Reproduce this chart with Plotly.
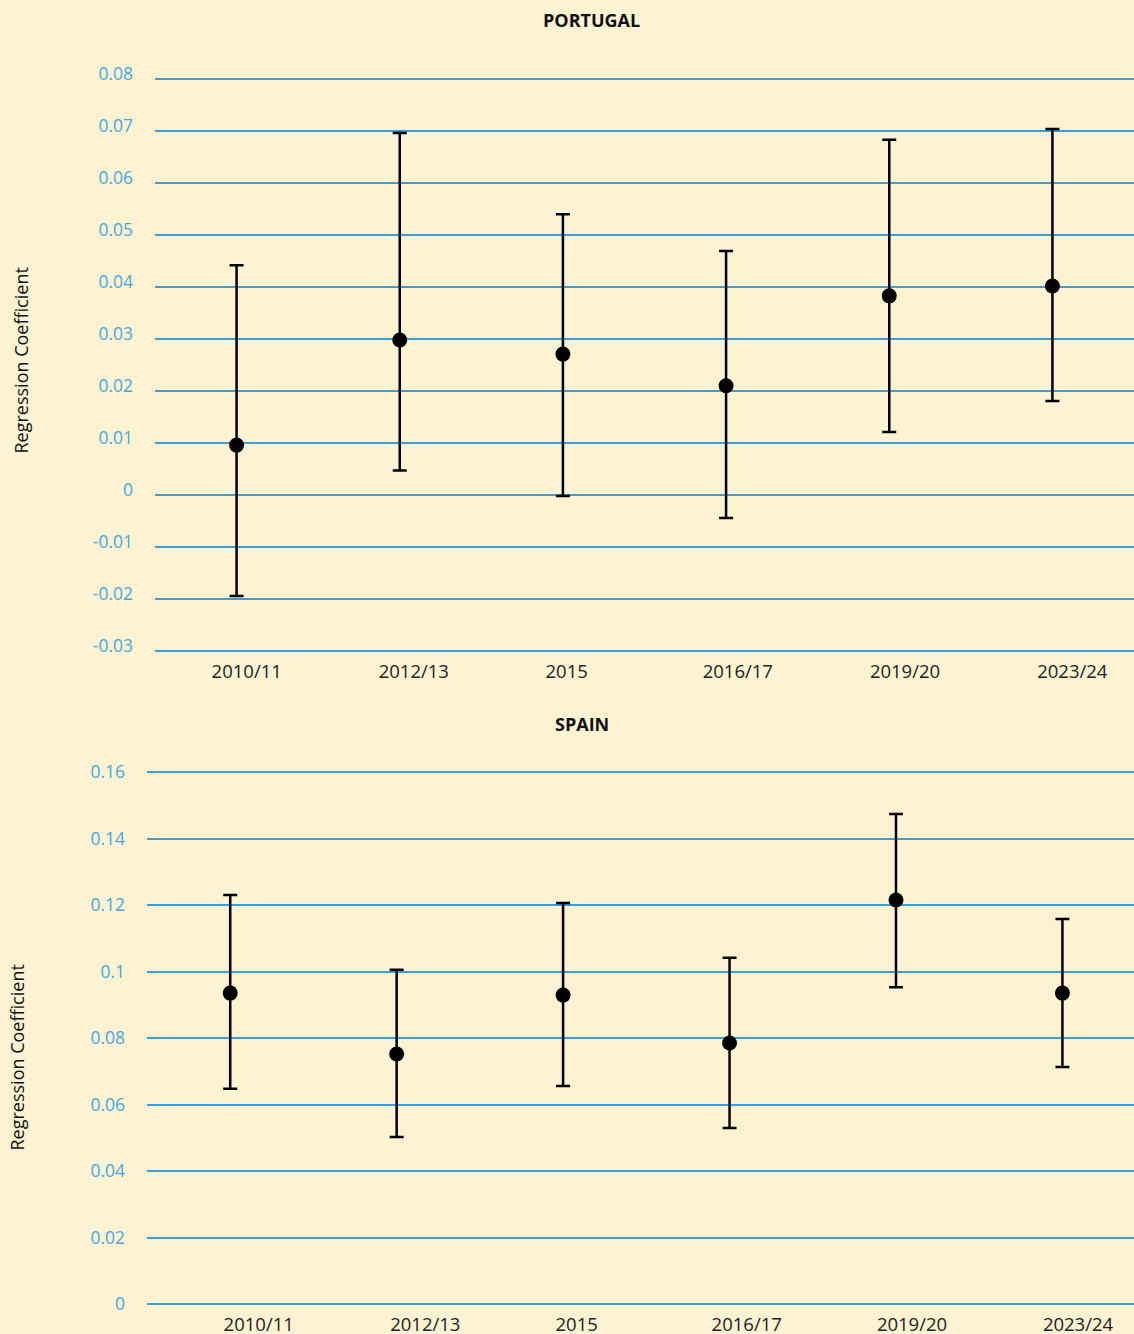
import plotly.graph_objects as go

# ---------------- data ----------------
categories = ["2010/11", "2012/13", "2015", "2016/17", "2019/20", "2023/24"]

pt_coef = [0.0096, 0.0298, 0.0271, 0.0210, 0.0383, 0.0402]
pt_upper = [0.0442, 0.0696, 0.0540, 0.0469, 0.0683, 0.0704]
pt_lower = [-0.0194, 0.0047, -0.0002, -0.0044, 0.0121, 0.0181]

es_coef = [0.0935, 0.0752, 0.0929, 0.0785, 0.1215, 0.0935]
es_upper = [0.1230, 0.1005, 0.1206, 0.1041, 0.1474, 0.1158]
es_lower = [0.0647, 0.0502, 0.0656, 0.0529, 0.0953, 0.0713]

pt_yticks = [-0.03, -0.02, -0.01, 0, 0.01, 0.02, 0.03, 0.04, 0.05, 0.06, 0.07, 0.08]
pt_yticktext = ["-0.03", "-0.02", "-0.01", "0", "0.01", "0.02", "0.03", "0.04", "0.05", "0.06", "0.07", "0.08"]
es_yticks = [0, 0.02, 0.04, 0.06, 0.08, 0.10, 0.12, 0.14, 0.16]
es_yticktext = ["0", "0.02", "0.04", "0.06", "0.08", "0.1", "0.12", "0.14", "0.16"]

# ---------------- layout constants ----------------
W, H = 1134, 1334
BG = "#fdf3d3"
GRID = "#3a9fd8"
TICKBLUE = "#48a7de"
FONT = "Open Sans"

pt_left, es_left = 155, 147
pt_top, pt_bottom = 79, 651
es_top, es_bottom = 772, 1304
PAD = 3  # px of extra room so that edge grid lines are drawn
pt_range = [-0.03, 0.08]
es_range = [0.0, 0.16]
# label centres (pixels) for category labels
pt_label_px = [246.7, 413.8, 566.7, 737.8, 905.0, 1072.3]
es_label_px = [258.7, 425.3, 576.7, 746.7, 912.0, 1078.0]

fig = go.Figure()


def add_panel(coef, upper, lower, xa, ya):
    fig.add_trace(go.Scatter(
        x=categories, y=coef, mode="markers",
        marker=dict(color="black", size=15),
        error_y=dict(type="data", symmetric=False,
                     array=[u - c for u, c in zip(upper, coef)],
                     arrayminus=[c - l for c, l in zip(coef, lower)],
                     color="black", thickness=2.5, width=7),
        xaxis=xa, yaxis=ya, showlegend=False, hoverinfo="skip"))


add_panel(pt_coef, pt_upper, pt_lower, "x", "y")
add_panel(es_coef, es_upper, es_lower, "x2", "y2")
# empty traces that activate the label axes
fig.add_trace(go.Scatter(x=[None], y=[None], xaxis="x3", yaxis="y", showlegend=False, hoverinfo="skip"))
fig.add_trace(go.Scatter(x=[None], y=[None], xaxis="x4", yaxis="y2", showlegend=False, hoverinfo="skip"))


def ydom(top, bottom):
    return [1 - (bottom + PAD) / H, 1 - (top - PAD) / H]


def padded(rng, top, bottom):
    per_px = (rng[1] - rng[0]) / (bottom - top)
    return [rng[0] - PAD * per_px, rng[1] + PAD * per_px]


yax_common = dict(showgrid=True, gridcolor=GRID, gridwidth=2, zeroline=False, automargin=False,
                  showline=False, ticks="", tickfont=dict(family=FONT, size=17.5, color=TICKBLUE),
                  ticklabelstandoff=21)
xcat_common = dict(type="category", showgrid=False, zeroline=False, showline=False, automargin=False,
                   ticks="", showticklabels=False, range=[-0.5, 5.5])
xlab_common = dict(type="linear", showgrid=False, zeroline=False, showline=False, ticks="", automargin=False,
                   tickfont=dict(family=FONT, size=18.5, color="#222222"), ticklabelstandoff=4)

fig.update_layout(
    width=W, height=H, autosize=False, margin=dict(l=0, r=0, t=0, b=0, pad=0),
    paper_bgcolor=BG, plot_bgcolor=BG,
    font=dict(family=FONT),
    xaxis=dict(**xcat_common, domain=[pt_left / W, 1], anchor="y"),
    yaxis=dict(**yax_common, domain=ydom(pt_top, pt_bottom), anchor="x",
               range=padded(pt_range, pt_top, pt_bottom), tickvals=pt_yticks, ticktext=pt_yticktext,
               ticklabelshift=-5),
    xaxis2=dict(**{**xcat_common, "range": [-0.5, 5.43]}, domain=[es_left / W, 1], anchor="y2"),
    yaxis2=dict(**yax_common, domain=ydom(es_top, es_bottom), anchor="x2",
                range=padded(es_range, es_top, es_bottom), tickvals=es_yticks, ticktext=es_yticktext),
    xaxis3=dict(**xlab_common, domain=[pt_left / W, 1], anchor="y", overlaying="x",
                range=[pt_left, W], tickvals=pt_label_px, ticktext=categories),
    xaxis4=dict(**xlab_common, domain=[es_left / W, 1], anchor="y2", overlaying="x2",
                range=[es_left, W], tickvals=es_label_px, ticktext=categories),
    annotations=[
        dict(text="<b>PORTUGAL</b>", x=591 / W, y=1 - 19.5 / H),
        dict(text="<b>SPAIN</b>", x=582 / W, y=1 - 724 / H),
        dict(text="Regression Coefficient", x=20 / W, y=1 - 360.5 / H, textangle=-90),
        dict(text="Regression Coefficient", x=16 / W, y=1 - 1057.5 / H, textangle=-90),
    ],
)
fig.update_annotations(xref="paper", yref="paper", xanchor="center", yanchor="middle",
                       showarrow=False, font=dict(family=FONT, size=18, color="#111111"))

fig.write_html("out.html", config={"responsive": False, "displayModeBar": False},
               post_script="document.body.style.margin='0';document.body.style.overflow='hidden';")
